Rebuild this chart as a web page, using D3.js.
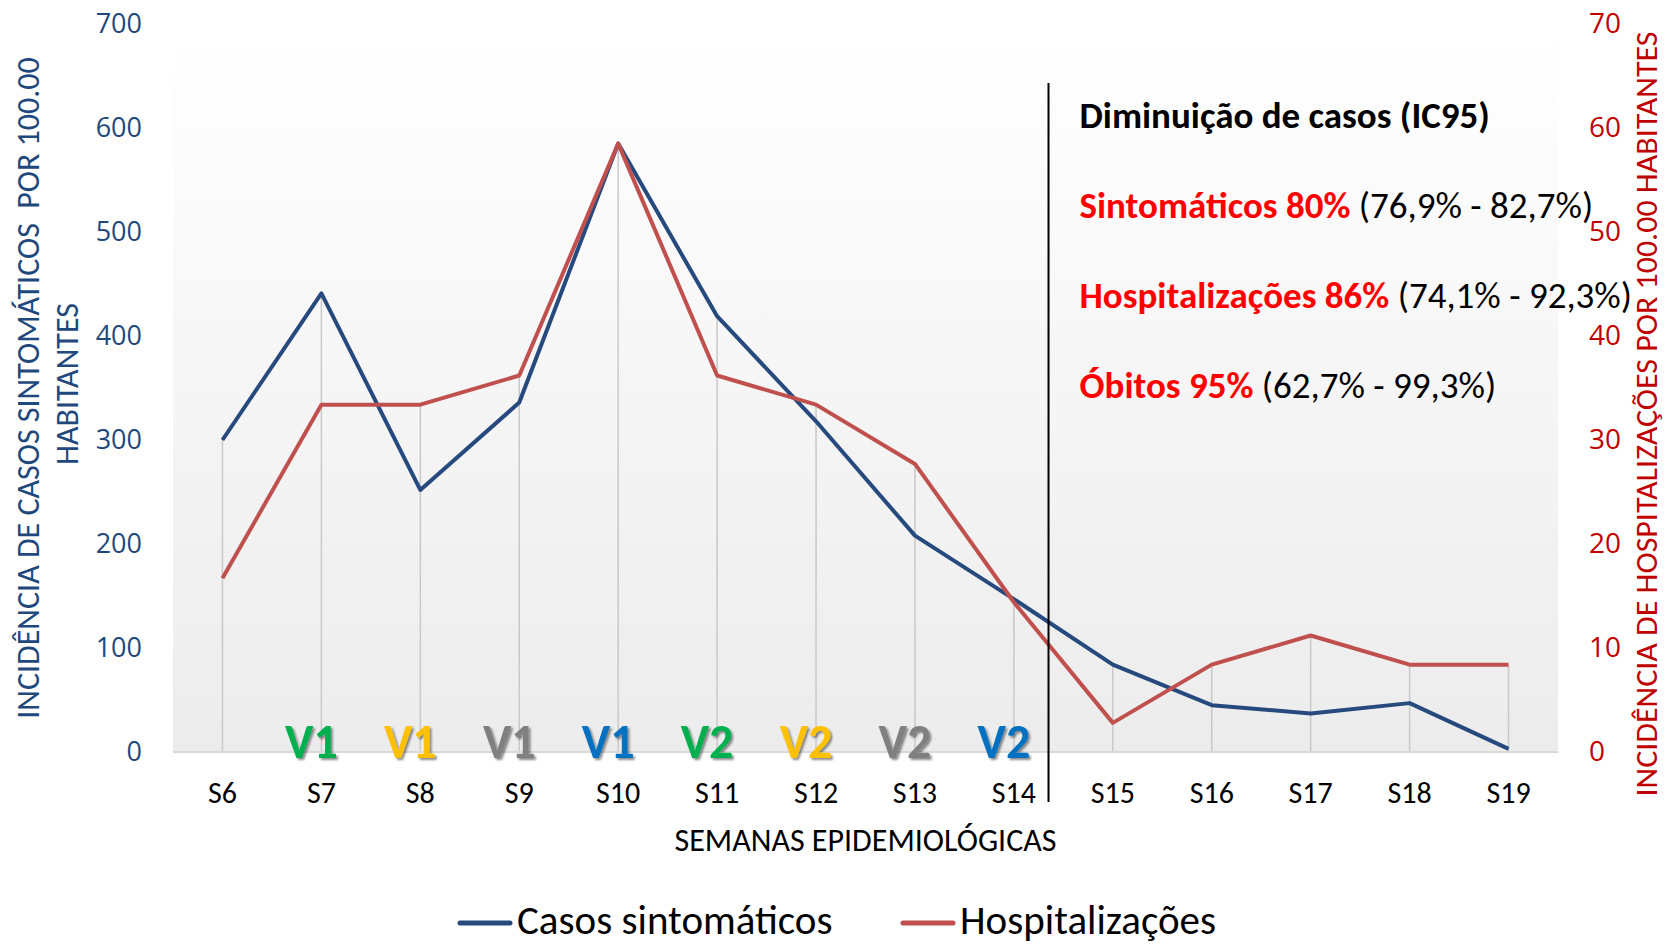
<!DOCTYPE html>
<html>
<head>
<meta charset="utf-8">
<script src="https://cdn.jsdelivr.net/npm/d3@7"></script>
<style>
  html, body { margin: 0; padding: 0; background: #fff; }
  svg { display: block; }
</style>
</head>
<body>
<script>
const [W, H] = [1665, 945];
const M = { left: 173, top: 24, right: 107, bottom: 193 };
const FONT = "Carlito, 'Liberation Sans Narrow', 'Open Sans', sans-serif";
const NUM_FONT = "'Open Sans', 'DejaVu Sans', sans-serif";

// data
const weeks = ['S6','S7','S8','S9','S10','S11','S12','S13','S14','S15','S16','S17','S18','S19'];
const casos = [300, 441, 252, 336, 585, 419, 318, 208, 147, 84, 45, 37, 47, 3];
const hosp = [16.7, 33.4, 33.4, 36.2, 58.5, 36.2, 33.4, 27.7, 14.4, 2.8, 8.4, 11.2, 8.4, 8.4];
const leftTicks = [0, 100, 200, 300, 400, 500, 600, 700];
const rightTicks = [0, 10, 20, 30, 40, 50, 60, 70];

// vaccination doses shown under the lines
const doseWeeks = ['S7','S8','S9','S10','S11','S12','S13','S14'];
const doseLabels = ['V1','V1','V1','V1','V2','V2','V2','V2'];
const doseColors = ['#00b050','#ffc000','#808080','#0070c0','#00b050','#ffc000','#808080','#0070c0'];

const noteTitle = 'Diminuição de casos (IC95)';
const noteRed = ['Sintomáticos 80%', 'Hospitalizações 86%', 'Óbitos 95%'];
const noteCI = ['(76,9% - 82,7%)', '(74,1% - 92,3%)', '(62,7% - 99,3%)'];

const seriesNames = ['Casos sintomáticos', 'Hospitalizações'];
const BLUE = '#264a7e';
const RED = '#c0504d';
const AXIS_BLUE = '#1f497d';
const AXIS_RED = '#c00000';

const svg = d3.select('body').append('svg').attr('width', W).attr('height', H);

const x = d3.scaleBand().domain(weeks).range([M.left, W - M.right]);
const cx = d => x(d) + x.bandwidth() / 2;
const yL = d3.scaleLinear().domain([0, 700]).range([H - M.bottom, M.top]);
const yR = d3.scaleLinear().domain([0, 70]).range([H - M.bottom, M.top]);

// plot area background gradient
const defs = svg.append('defs');
const grad = defs.append('linearGradient')
    .attr('id', 'bg').attr('x1', 0).attr('y1', 0).attr('x2', 0).attr('y2', 1);
grad.append('stop').attr('offset', '0').attr('stop-color', '#ffffff');
grad.append('stop').attr('offset', '1').attr('stop-color', '#ececec');

svg.append('rect')
    .attr('x', M.left).attr('y', yL(700))
    .attr('width', W - M.right - M.left).attr('height', yL(0) - yL(700))
    .attr('fill', 'url(#bg)');

// drop lines
svg.append('g').selectAll('line')
    .data(weeks)
    .enter().append('line')
    .attr('x1', d => cx(d)).attr('x2', d => cx(d))
    .attr('y1', (d, i) => Math.min(yL(casos[i]), yR(hosp[i])))
    .attr('y2', yL(0))
    .attr('stroke', '#c9c9c9').attr('stroke-width', 1.5);

// baseline
svg.append('line')
    .attr('x1', M.left).attr('x2', W - M.right)
    .attr('y1', yL(0)).attr('y2', yL(0))
    .attr('stroke', '#d9d9d9').attr('stroke-width', 2);

// axes
const leftAxis = svg.append('g')
    .attr('transform', 'translate(' + (M.left - 31) + ',0)')
    .call(d3.axisLeft(yL).tickValues(leftTicks).tickSize(0).tickPadding(0));
leftAxis.select('.domain').remove();
leftAxis.selectAll('text')
    .style('font-family', NUM_FONT).style('font-size', '27px')
    .attr('fill', AXIS_BLUE);

const rightAxis = svg.append('g')
    .attr('transform', 'translate(' + (W - M.right + 31) + ',0)')
    .call(d3.axisRight(yR).tickValues(rightTicks).tickSize(0).tickPadding(0));
rightAxis.select('.domain').remove();
rightAxis.selectAll('text')
    .style('font-family', NUM_FONT).style('font-size', '28px')
    .attr('fill', AXIS_RED);

const xAxis = svg.append('g')
    .attr('transform', 'translate(0,' + yL(0) + ')')
    .call(d3.axisBottom(x).tickSize(0).tickPadding(30));
xAxis.select('.domain').remove();
xAxis.selectAll('text')
    .style('font-family', FONT).style('font-size', '30px')
    .attr('fill', '#000');

// axis titles
svg.append('text')
    .attr('x', (M.left + W - M.right) / 2).attr('y', 851)
    .attr('text-anchor', 'middle')
    .style('font-family', FONT).style('font-size', '32px')
    .text('SEMANAS EPIDEMIOLÓGICAS');

const midY = (yL(0) + yL(700)) / 2;
const lt = svg.append('text')
    .attr('transform', 'translate(39,' + midY + ') rotate(-90)')
    .attr('text-anchor', 'middle')
    .style('font-family', FONT).style('font-size', '32px')
    .style('white-space', 'pre')
    .attr('fill', AXIS_BLUE);
lt.append('tspan').attr('x', 0).attr('y', 0).text('INCIDÊNCIA DE CASOS SINTOMÁTICOS\u00a0 POR 100.00');
lt.append('tspan').attr('x', 4).attr('y', 39).text('HABITANTES');

svg.append('text')
    .attr('transform', 'translate(1657,' + (midY + 26) + ') rotate(-90)')
    .attr('text-anchor', 'middle')
    .attr('textLength', 765).attr('lengthAdjust', 'spacingAndGlyphs')
    .style('font-family', FONT).style('font-size', '30px')
    .attr('fill', AXIS_RED)
    .text('INCIDÊNCIA DE HOSPITALIZAÇÕES POR 100.00 HABITANTES');

// series lines
const lineL = d3.line().x((d, i) => cx(weeks[i])).y(d => yL(d));
const lineR = d3.line().x((d, i) => cx(weeks[i])).y(d => yR(d));

svg.append('path').datum(casos)
    .attr('d', lineL).attr('fill', 'none')
    .attr('stroke', BLUE).attr('stroke-width', 4).attr('stroke-linejoin', 'round');
svg.append('path').datum(hosp)
    .attr('d', lineR).attr('fill', 'none')
    .attr('stroke', RED).attr('stroke-width', 4).attr('stroke-linejoin', 'round');

// dose labels
const shadow = defs.append('filter').attr('id', 'sh')
    .attr('x', '-20%').attr('y', '-20%').attr('width', '140%').attr('height', '140%');
shadow.append('feDropShadow').attr('dx', 2).attr('dy', 2).attr('stdDeviation', 1.2)
    .attr('flood-color', '#000').attr('flood-opacity', 0.45);

svg.append('g').selectAll('text')
    .data(doseWeeks)
    .enter().append('text')
    .attr('x', d => cx(d) - 10)
    .attr('y', yL(0) + 6)
    .attr('text-anchor', 'middle')
    .attr('filter', 'url(#sh)')
    .style('font-family', FONT).style('font-size', '48px').style('font-weight', 'bold')
    .attr('fill', (d, i) => doseColors[i])
    .text((d, i) => doseLabels[i]);

// separator line after S14
const sepX = x('S14') + x.bandwidth() * 0.85;
svg.append('line')
    .attr('x1', sepX).attr('x2', sepX)
    .attr('y1', 83).attr('y2', 802)
    .attr('stroke', '#000').attr('stroke-width', 2);

// annotation block
const noteX = sepX + 31;
svg.append('text')
    .attr('x', noteX).attr('y', 128)
    .style('font-family', FONT).style('font-size', '37px').style('font-weight', 'bold')
    .text(noteTitle);

noteRed.forEach((t, i) => {
    const tx = svg.append('text')
        .attr('x', noteX).attr('y', 218 + i * 90)
        .style('font-family', FONT).style('font-size', '37px');
    tx.append('tspan').attr('fill', '#ff0000').style('font-weight', 'bold').text(t);
    tx.append('tspan').attr('fill', '#000').text(' ' + noteCI[i]);
});

// legend
const legend = svg.append('g').selectAll('g')
    .data(seriesNames)
    .enter().append('g')
    .attr('transform', (d, i) => 'translate(' + (460 + i * 443) + ',923)');
legend.append('line')
    .attr('x1', 0).attr('x2', 50).attr('y1', 0).attr('y2', 0)
    .attr('stroke', (d, i) => i === 0 ? BLUE : RED)
    .attr('stroke-width', 5).attr('stroke-linecap', 'round');
legend.append('text')
    .attr('x', 57).attr('y', 11)
    .style('font-family', FONT).style('font-size', '41px')
    .text(d => d);
</script>
</body>
</html>
